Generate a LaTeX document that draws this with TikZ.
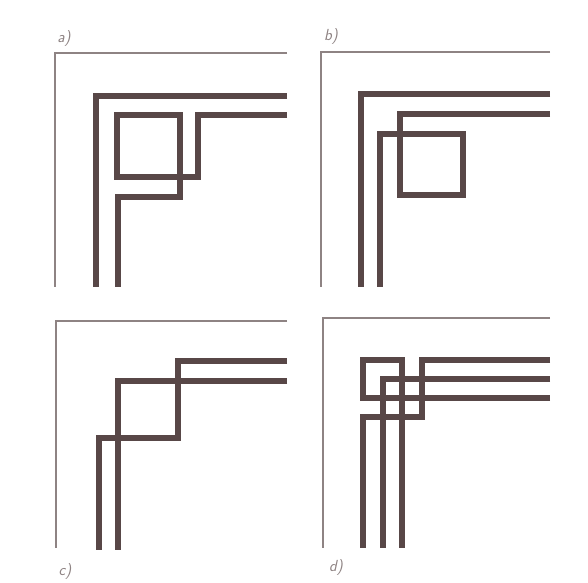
\documentclass[tikz,border=0pt]{standalone}
\usepackage{tikz}
\usetikzlibrary{positioning}
\definecolor{BandBrown}{HTML}{584747}
\definecolor{FrameGrey}{HTML}{8E8383}
\tikzset{
  band/.style={draw=BandBrown, line width=6.5pt, line join=miter},
  frameline/.style={draw=FrameGrey, line width=1.6pt, line join=miter},
  panellabel/.style={font=\sffamily\itshape\fontsize{16}{16}\selectfont, text=FrameGrey, inner sep=0pt}
}

\begin{document}
\begin{tikzpicture}[x=1pt, y=-1pt]
\useasboundingbox[fill=white] (0,0) rectangle (588,582);

% a) square hooked between the two bands
\node[panellabel] (la) at (64,39) {a)};
\draw[frameline] (287,53) -- (55,53) -- (55,287);
\draw[band] (287,96) -- (96,96) -- (96,287);
\draw[band] (287,115) -- (198,115) -- (198,177) -- (117,177) -- (117,115)
  -- (180,115) -- (180,197) -- (118,197) -- (118,287);

% b) square hanging from the inner band
\node[panellabel] (lb) at (331,37) {b)};
\draw[frameline] (550,52) -- (321,52) -- (321,287);
\draw[band] (550,94) -- (361,94) -- (361,287);
\draw[band] (550,114) -- (400,114) -- (400,195) -- (463,195) -- (463,134)
  -- (380,134) -- (380,287);

% c) stepped band crossing the straight one
\node[panellabel] (lc) at (65,571) {c)};
\draw[frameline] (287,321) -- (56,321) -- (56,548);
\draw[band] (287,361) -- (178,361) -- (178,438) -- (99,438) -- (99,550);
\draw[band] (287,381) -- (118,381) -- (118,550);

% d) three bands knotted at the corner
\node[panellabel] (ld) at (336,567) {d)};
\draw[frameline] (550,318) -- (323,318) -- (323,548);
\draw[band] (550,360) -- (422,360) -- (422,417) -- (363,417) -- (363,548);
\draw[band] (550,379) -- (383,379) -- (383,548);
\draw[band] (550,398) -- (363,398) -- (363,360) -- (402,360) -- (402,548);
\end{tikzpicture}
\end{document}
